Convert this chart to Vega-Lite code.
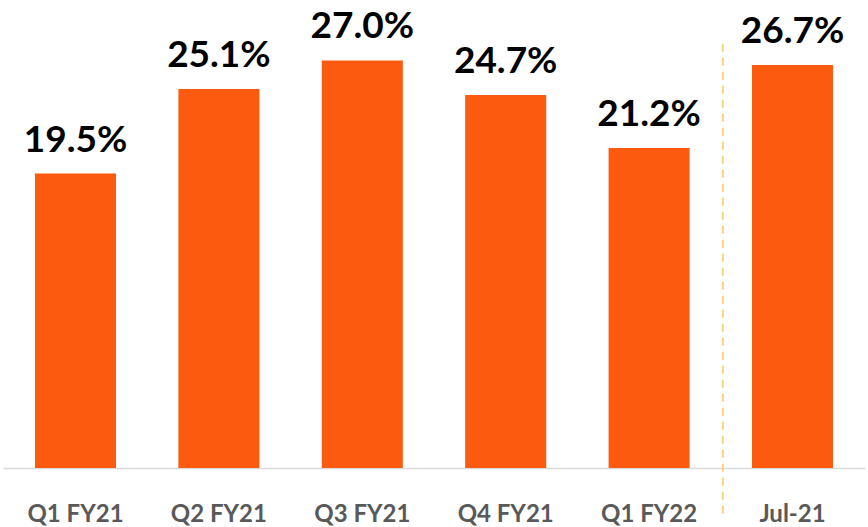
{
  "$schema": "https://vega.github.io/schema/vega-lite/v6.json",
  "width": 862,
  "height": 468,
  "padding": {"left": 3, "right": 3, "top": 0, "bottom": 59},
  "autosize": {"type": "none"},
  "background": "white",
  "config": {"view": {"stroke": null}},
  "datasets": {
    "bars": [
      {"period": "Q1 FY21", "value": 19.5, "label": "19.5%"},
      {"period": "Q2 FY21", "value": 25.1, "label": "25.1%"},
      {"period": "Q3 FY21", "value": 27.0, "label": "27.0%"},
      {"period": "Q4 FY21", "value": 24.7, "label": "24.7%"},
      {"period": "Q1 FY22", "value": 21.2, "label": "21.2%"},
      {"period": "Jul-21", "value": 26.7, "label": "26.7%"}
    ],
    "divider": [
      {"period": "Jul-21", "top": 28.1, "bottom": -3.2}
    ]
  },
  "layer": [
    {
      "data": {"name": "bars"},
      "mark": {"type": "bar", "color": "#FC5A0E"},
      "encoding": {
        "x": {
          "field": "period", "type": "nominal", "sort": null,
          "scale": {"paddingInner": 0.435, "paddingOuter": 0.223},
          "axis": {
            "title": null, "ticks": false, "domainColor": "#D9D9D9", "domainWidth": 1.5,
            "labelFont": "Lato", "labelFontWeight": "bold", "labelFontSize": 24,
            "labelColor": "#595959", "labelAngle": 0, "labelPadding": 53,
            "labelBaseline": "alphabetic"
          }
        },
        "y": {
          "field": "value", "type": "quantitative",
          "scale": {"domain": [0, 31], "nice": false},
          "axis": null
        }
      }
    },
    {
      "data": {"name": "bars"},
      "mark": {"type": "text", "font": "Lato", "fontWeight": "bold", "fontSize": 37, "color": "#000000", "baseline": "alphabetic", "dy": -22},
      "encoding": {
        "x": {"field": "period", "type": "nominal", "sort": null},
        "y": {"field": "value", "type": "quantitative"},
        "text": {"field": "label"}
      }
    },
    {
      "data": {"name": "divider"},
      "mark": {"type": "rule", "color": "#FFD280", "strokeWidth": 2, "strokeDash": [8, 6]},
      "encoding": {
        "x": {"field": "period", "type": "nominal", "sort": null, "bandPosition": -0.36},
        "y": {"field": "top", "type": "quantitative"},
        "y2": {"field": "bottom"}
      }
    }
  ]
}
